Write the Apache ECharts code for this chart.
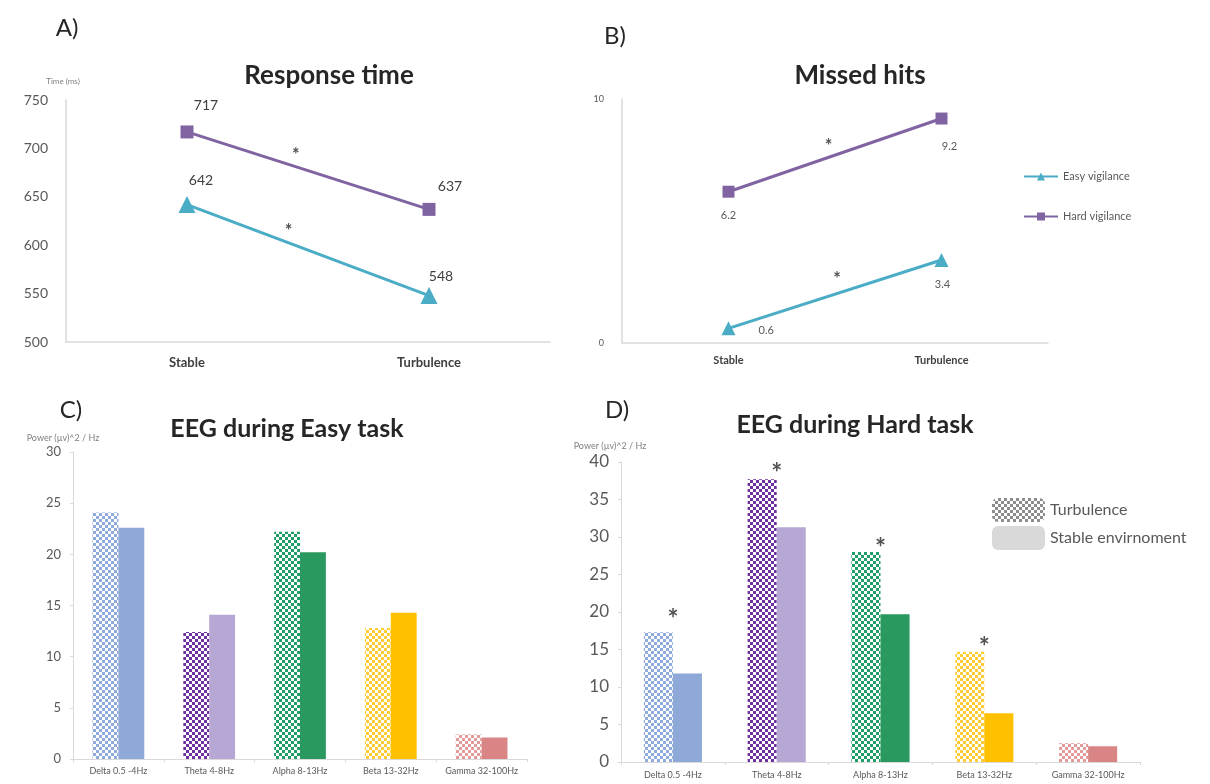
<!DOCTYPE html>
<html>
<head>
<meta charset="utf-8">
<script src="https://cdn.jsdelivr.net/npm/echarts@6/dist/echarts.min.js"></script>
<style>
html,body{margin:0;padding:0;background:#fff;}
#chart{width:1210px;height:784px;}
</style>
</head>
<body>
<div id="chart"></div>
<script>
// ---- data ----
const conditions = ['Stable', 'Turbulence'];
const rtEasy = [642, 548];
const rtHard = [717, 637];
const mhEasy = [0.6, 3.4];
const mhHard = [6.2, 9.2];
const rtSig = [[0.45, 698], [0.42, 619]];
const mhSig = [[0.47, 8.24], [0.51, 2.79]];

const bands = ['Delta 0.5 -4Hz', 'Theta 4-8Hz', 'Alpha 8-13Hz', 'Beta 13-32Hz', 'Gamma 32-100Hz'];
const easyTurb = [24.1, 12.4, 22.2, 12.8, 2.4];
const easyStable = [22.6, 14.1, 20.2, 14.3, 2.1];
const hardTurb = [17.3, 37.7, 28.0, 14.7, 2.5];
const hardStable = [11.8, 31.3, 19.7, 6.5, 2.1];
const hardSig = [19.9, 39.3, 29.3, 16.1, null];

// ---- styles ----
const PURPLE = '#8064A2', TEAL = '#4BACC6';
const patColors = ['#8FAADC', '#7030A0', '#1F9E68', '#FFCC33', '#E29A9A'];
const solidColors = ['#8EA9D8', '#B7A7D4', '#2A9960', '#FFC000', '#D98585'];
const GRAY = '#595959', AXIS = '#D9D9D9';
const FONT = 'Lato, "Open Sans", sans-serif';

function pat(color) {
  const c = document.createElement('canvas');
  c.width = 6; c.height = 6;
  const g = c.getContext('2d');
  g.fillStyle = '#ffffff'; g.fillRect(0, 0, 6, 6);
  g.fillStyle = color;
  g.fillRect(0, 0, 3, 3); g.fillRect(3, 3, 3, 3);
  return { image: c, repeat: 'repeat' };
}

const chart = echarts.init(document.getElementById('chart'));

function t(text, x, y, size, weight, color) {
  return { text: text, left: x, top: y, textAlign: 'center',
    textStyle: { fontFamily: FONT, fontSize: size, fontWeight: weight || 'normal', color: color || '#262626' } };
}

const catFmt = v => (Math.abs(v - Math.round(v)) < 1e-6 && v >= 0 && v <= 1) ? conditions[Math.round(v)] : '';

function lineItems(vals, offs) {
  return vals.map((v, i) => ({ value: [i, v], label: { offset: offs[i] } }));
}

function sigSeries(xi, yi, data, size) {
  return { type: 'scatter', xAxisIndex: xi, yAxisIndex: yi, data: data, symbol: 'circle', symbolSize: 1,
    itemStyle: { color: 'rgba(0,0,0,0)' }, silent: true, z: 5,
    label: { show: true, formatter: '*', position: 'inside', offset: [0, size * 0.25], fontSize: size, fontWeight: 'bold', color: '#262626', fontFamily: FONT } };
}

const option = {
  animation: false,
  backgroundColor: '#fff',
  title: [
    t('A)', 62, 11, 24, 'normal'),
    t('Response time', 324, 58, 26, 'bold'),
    t('Time (ms)', 58, 72, 8, 'normal', '#7f7f7f'),
    t('B)', 610, 19, 24, 'normal'),
    t('Missed hits', 855, 58, 26, 'bold'),
    t('C)', 66, 393, 24, 'normal'),
    t('EEG during Easy task', 282, 411, 25, 'bold'),
    t('Power (µv)^2 / Hz', 58, 429, 9, 'normal', '#7f7f7f'),
    t('D)', 612, 393, 24, 'normal'),
    t('EEG during Hard task', 850, 407, 25, 'bold'),
    t('Power (µv)^2 / Hz', 605, 437, 9, 'normal', '#7f7f7f')
  ],
  legend: [
    { data: ['Easy vigilance', 'Hard vigilance'], orient: 'vertical', left: 1018, top: 166, itemGap: 29,
      itemWidth: 34, itemHeight: 10, textStyle: { fontFamily: FONT, fontSize: 11, color: GRAY } },
    { data: [
        { name: 'Turbulence', itemStyle: { color: pat('#8c8c8c') } },
        { name: 'Stable envirnoment', itemStyle: { color: '#D9D9D9' } }
      ], orient: 'vertical', left: 987, top: 493, itemGap: 4, itemWidth: 53, itemHeight: 24,
      textStyle: { fontFamily: FONT, fontSize: 16, color: GRAY } }
  ],
  grid: [
    { left: 66, top: 100, width: 484, height: 242 },
    { left: 622, top: 99, width: 426, height: 244 },
    { left: 73, top: 452, width: 454, height: 307 },
    { left: 621, top: 462, width: 519, height: 300 }
  ],
  xAxis: [
    { type: 'value', gridIndex: 0, min: -0.5, max: 1.5, interval: 0.5, splitLine: { show: false },
      axisLine: { show: true, lineStyle: { color: AXIS, width: 1.5 } }, axisTick: { show: false },
      axisLabel: { formatter: catFmt, fontFamily: FONT, fontSize: 13, fontWeight: 'bold', color: '#404040', margin: 14 } },
    { type: 'value', gridIndex: 1, min: -0.5, max: 1.5, interval: 0.5, splitLine: { show: false },
      axisLine: { show: true, lineStyle: { color: AXIS, width: 1.5 } }, axisTick: { show: false },
      axisLabel: { formatter: catFmt, fontFamily: FONT, fontSize: 11, fontWeight: 'bold', color: '#404040', margin: 12 } },
    { type: 'category', gridIndex: 2, data: bands,
      axisLine: { lineStyle: { color: AXIS } }, axisTick: { show: true, length: 3, lineStyle: { color: AXIS } },
      axisLabel: { fontFamily: FONT, fontSize: 9, color: GRAY, margin: 8, interval: 0 } },
    { type: 'category', gridIndex: 3, data: bands,
      axisLine: { lineStyle: { color: AXIS } }, axisTick: { show: true, length: 3, lineStyle: { color: AXIS } },
      axisLabel: { fontFamily: FONT, fontSize: 9, color: GRAY, margin: 9, interval: 0 } }
  ],
  yAxis: [
    { type: 'value', gridIndex: 0, min: 500, max: 750, interval: 50, splitLine: { show: false },
      axisLine: { show: true, onZero: false, lineStyle: { color: AXIS, width: 1.5 } }, axisTick: { show: false },
      axisLabel: { fontFamily: FONT, fontSize: 14, color: GRAY, margin: 18 } },
    { type: 'value', gridIndex: 1, min: 0, max: 10, interval: 10, splitLine: { show: false },
      axisLine: { show: true, onZero: false, lineStyle: { color: AXIS, width: 1.5 } }, axisTick: { show: false },
      axisLabel: { fontFamily: FONT, fontSize: 9, color: GRAY, margin: 18 } },
    { type: 'value', gridIndex: 2, min: 0, max: 30, interval: 5, splitLine: { show: false },
      axisLine: { show: true, lineStyle: { color: AXIS } }, axisTick: { show: true, length: 3, lineStyle: { color: AXIS } },
      axisLabel: { fontFamily: FONT, fontSize: 13, color: GRAY, margin: 12 } },
    { type: 'value', gridIndex: 3, min: 0, max: 40, interval: 5, splitLine: { show: false },
      axisLine: { show: true, lineStyle: { color: AXIS } }, axisTick: { show: true, length: 3, lineStyle: { color: AXIS } },
      axisLabel: { fontFamily: FONT, fontSize: 17, color: GRAY, margin: 12 } }
  ],
  series: [
    { name: 'Hard vigilance', type: 'line', xAxisIndex: 0, yAxisIndex: 0,
      data: lineItems(rtHard, [[19, -8], [21, -4]]), symbol: 'rect', symbolSize: 13,
      lineStyle: { color: PURPLE, width: 3 }, itemStyle: { color: PURPLE },
      label: { show: true, position: 'top', formatter: p => p.value[1], fontFamily: FONT, fontSize: 14, color: '#404040' } },
    { name: 'Easy vigilance', type: 'line', xAxisIndex: 0, yAxisIndex: 0,
      data: lineItems(rtEasy, [[14, -4], [12, 1]]), symbol: 'triangle', symbolSize: 17,
      lineStyle: { color: TEAL, width: 3 }, itemStyle: { color: TEAL },
      label: { show: true, position: 'top', formatter: p => p.value[1], fontFamily: FONT, fontSize: 14, color: '#404040' } },
    sigSeries(0, 0, rtSig, 18),
    { name: 'Hard vigilance', type: 'line', xAxisIndex: 1, yAxisIndex: 1,
      data: lineItems(mhHard, [[0, 7], [8, 11]]), symbol: 'rect', symbolSize: 12,
      lineStyle: { color: PURPLE, width: 3 }, itemStyle: { color: PURPLE },
      label: { show: true, position: 'bottom', formatter: p => p.value[1], fontFamily: FONT, fontSize: 11, color: '#595959' } },
    { name: 'Easy vigilance', type: 'line', xAxisIndex: 1, yAxisIndex: 1,
      data: [
        { value: [0, mhEasy[0]], label: { position: 'right', offset: [18, 2] } },
        { value: [1, mhEasy[1]], label: { position: 'bottom', offset: [1, 7] } }
      ], symbol: 'triangle', symbolSize: 14,
      lineStyle: { color: TEAL, width: 3 }, itemStyle: { color: TEAL },
      label: { show: true, formatter: p => p.value[1], fontFamily: FONT, fontSize: 11, color: '#595959' } },
    sigSeries(1, 1, mhSig, 18),
    { name: 'Turbulence', type: 'bar', xAxisIndex: 2, yAxisIndex: 2, barGap: '0%', barCategoryGap: '43%',
      data: easyTurb.map((v, i) => ({ value: v, itemStyle: { color: pat(patColors[i]) } })) },
    { name: 'Stable envirnoment', type: 'bar', xAxisIndex: 2, yAxisIndex: 2, barGap: '0%', barCategoryGap: '43%',
      data: easyStable.map((v, i) => ({ value: v, itemStyle: { color: solidColors[i] } })) },
    { name: 'Turbulence', type: 'bar', xAxisIndex: 3, yAxisIndex: 3, barGap: '0%', barCategoryGap: '44%',
      data: hardTurb.map((v, i) => ({ value: v, itemStyle: { color: pat(patColors[i]) } })) },
    { name: 'Stable envirnoment', type: 'bar', xAxisIndex: 3, yAxisIndex: 3, barGap: '0%', barCategoryGap: '44%',
      data: hardStable.map((v, i) => ({ value: v, itemStyle: { color: solidColors[i] } })) },
    sigSeries(3, 3, hardSig.map((v, i) => v == null ? null : [bands[i], v]).filter(d => d), 26)
  ]
};
chart.setOption(option);
</script>
</body>
</html>
